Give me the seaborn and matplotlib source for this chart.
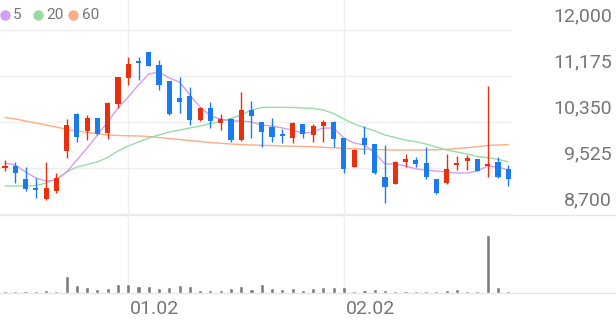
import numpy as np
import pandas as pd
import matplotlib
matplotlib.use("Agg")
import matplotlib.pyplot as plt
import seaborn as sns
from matplotlib.lines import Line2D

# ---------------- data ----------------
opens = [9531, 9567, 9328, 9172, 8970, 9113, 9830, 10494, 10189, 10428,
         10148, 10668, 11145, 11444, 11600, 11372, 11086, 10775, 10822, 10386,
         10607, 10338, 10404, 10022, 10566, 10345, 10266, 10141, 10069, 10309,
         10117, 10284, 10345, 10058, 9549, 10058, 9951, 9370, 9239, 9628,
         9669, 9621, 9323, 9249, 9579, 9654, 9687, 9561, 9639, 9502]
closes = [9567, 9430, 9149, 9137, 9172, 9341, 10297, 10085, 10428, 10128,
          10686, 11152, 11385, 11417, 11360, 11014, 10488, 10704, 10386, 10607,
          10365, 10404, 10028, 10560, 10463, 10166, 10085, 10094, 10327, 10128,
          10284, 10345, 10046, 9508, 9848, 9938, 9431, 9180, 9639, 9687,
          9597, 9359, 9072, 9502, 9612, 9697, 9477, 9592, 9359, 9328]
highs = [9669, 9628, 9549, 9352, 9639, 9431, 10404, 10506, 10476, 10430,
         10704, 11163, 11521, 11516, 11610, 11462, 11090, 11152, 10983, 10625,
         10704, 10488, 10428, 10883, 10727, 10356, 10428, 10225, 10345, 10309,
         10309, 10381, 10368, 10069, 9860, 10284, 9960, 9938, 9650, 9777,
         9716, 9893, 9330, 9777, 9741, 9759, 9690, 10996, 9716, 9579]
lows = [9471, 9251, 9113, 8993, 8952, 9072, 9710, 9997, 10028, 10117,
        10040, 10596, 11014, 11104, 11350, 10924, 10480, 10506, 10297, 10368,
        10249, 10207, 9986, 10010, 10069, 9908, 9997, 9979, 9968, 10058,
        9986, 9997, 9908, 9431, 9540, 9771, 9420, 8893, 9230, 9538,
        9549, 9323, 9060, 9239, 9490, 9490, 9470, 9370, 9341, 9201]
ma5 = [9615, 9579, 9453, 9346, 9292, 9310, 9453, 9668, 9884, 10117,
       10350, 10601, 10798, 11014, 11211, 11247, 11139, 11067, 10834, 10619,
       10458, 10404, 10368, 10368, 10350, 10296, 10278, 10242, 10206, 10153,
       10171, 10242, 10242, 10063, 9973, 9937, 9794, 9597, 9597, 9561,
       9507, 9489, 9471, 9453, 9435, 9435, 9471, 9561, 9543, 9489]
ma20 = [9202, 9202, 9202, 9211, 9256, 9328, 9453, 9543, 9588, 9633,
        9713, 9830, 9920, 9991, 10063, 10117, 10171, 10206, 10242, 10278,
        10323, 10359, 10413, 10476, 10565, 10610, 10614, 10614, 10610, 10601,
        10592, 10565, 10502, 10404, 10314, 10251, 10189, 10117, 10072, 10027,
        9997, 9955, 9902, 9848, 9812, 9776, 9731, 9710, 9681, 9633]
ma60 = [10431, 10404, 10368, 10332, 10296, 10260, 10215, 10189, 10162, 10144,
        10117, 10108, 10102, 10099, 10090, 10072, 10054, 10036, 10018, 10000,
        9982, 9968, 9955, 9946, 9937, 9932, 9927, 9920, 9916, 9911,
        9905, 9896, 9887, 9878, 9869, 9862, 9857, 9851, 9848, 9848,
        9848, 9848, 9853, 9860, 9875, 9889, 9907, 9929, 9937, 9946]
volumes = [15000, 15000, 15000, 15000, 27000, 20000, 167000, 77000, 60000, 33000,
           50000, 90000, 83000, 63000, 63000, 50000, 60000, 73000, 63000, 30000,
           30000, 23000, 50000, 63000, 33000, 83000, 43000, 33000, 43000, 30000,
           50000, 53000, 60000, 57000, 17000, 23000, 40000, 27000, 20000, 15000,
           12000, 20000, 20000, 23000, 33000, 20000, 17000, 577000, 60000, 15000]
price_ticks = [12000, 11175, 10350, 9525, 8700]
date_tick_index = [12, 33]
date_tick_labels = ["01.02", "02.02"]
legend_labels = ["5", "20", "60"]

# ---------------- style ----------------
sns.set_theme(style="white")
plt.rcParams['font.family'] = ['Roboto', 'DejaVu Sans']

RED = "#e8300e"
BLUE = "#1a7bef"
C5, C20, C60 = "#d89cf2", "#98dca4", "#fcac88"
GRID = "#efefef"
TXT = "#767676"

W, H = 616, 321
fig = plt.figure(figsize=(W / 100, H / 100), dpi=100)
fig.patch.set_facecolor("white")

def fy(py):
    return 1 - py / H

plot_right = 512
ax = fig.add_axes([0, fy(215), plot_right / W, 215 / H])
axv = fig.add_axes([0, fy(292.5), plot_right / W, (292.5 - 215) / H])

n = len(opens)
idx = np.arange(n)
df = pd.DataFrame({"i": idx, "open": opens, "close": closes, "high": highs,
                   "low": lows, "ma5": ma5, "ma20": ma20, "ma60": ma60,
                   "vol": volumes})

step = 10.27
x0 = -5 / step
x1 = (plot_right - 5) / step
per = (12000 - 8700) / 184.0  # won per pixel
ytop = 12000 + 30 * per
ybot = 8700 - 1 * per

# separators (drawn beneath the axes content)
for py in (215, 293):
    fig.add_artist(Line2D([0, 1], [fy(py), fy(py)], transform=fig.transFigure,
                          color="#e6e6e6", lw=1, zorder=-1))

# gridlines
for v in price_ticks:
    ax.axhline(v, color=GRID, lw=1, zorder=0)
for i in date_tick_index:
    ax.axvline(i, color=GRID, lw=1, zorder=0)
    axv.axvline(i, color=GRID, lw=1, zorder=0)

# MA lines
sns.lineplot(data=df, x="i", y="ma60", ax=ax, color=C60, lw=1.0, zorder=2)
sns.lineplot(data=df, x="i", y="ma20", ax=ax, color=C20, lw=1.0, zorder=2)
sns.lineplot(data=df, x="i", y="ma5", ax=ax, color=C5, lw=1.0, zorder=2)

# candles
min_body = 1.6 * per
for r in df.itertuples():
    up = r.close >= r.open
    col = RED if up else BLUE
    ax.vlines(r.i, r.low, r.high, color=col, lw=1.0, zorder=3)
    lo = min(r.open, r.close)
    h = abs(r.close - r.open)
    if h < min_body:
        lo = (r.open + r.close) / 2 - min_body / 2
        h = min_body
    ax.bar(r.i, h, bottom=lo, width=0.5, color=col, zorder=4, linewidth=0)

ax.set_xlim(x0, x1)
ax.set_ylim(ybot, ytop)
ax.set_axis_off()

# volume
sns.barplot(data=df, x="i", y="vol", ax=axv, color="#7d7d7d", width=0.4,
            native_scale=True, saturation=1, zorder=3)
axv.set_xlim(x0, x1)
axv.set_ylim(0, 775000)
axv.set_axis_off()

# price labels
for v in price_ticks:
    ax.annotate(f"{v:,}", xy=(1, v), xycoords=ax.get_yaxis_transform(),
                xytext=(612 - plot_right, 14), textcoords="offset pixels",
                ha="right", va="center", fontsize=14, color=TXT)

# date labels
for i, lab in zip(date_tick_index, date_tick_labels):
    axv.annotate(lab, xy=(i, 0), xycoords=axv.get_xaxis_transform(),
                 xytext=(2, -17), textcoords="offset pixels",
                 ha="left", va="center", fontsize=14, color=TXT)

# legend
leg_cols = [C5, C20, C60]
dot_x = [5, 37.5, 73]
txt_x = [13, 46, 82]
for c, dx, tx, lab in zip(leg_cols, dot_x, txt_x, legend_labels):
    fig.add_artist(Line2D([dx / W], [fy(15)], transform=fig.transFigure,
                          marker="o", markersize=6.5, color=c, lw=0))
    fig.text(tx / W, fy(15), lab, ha="left", va="center", fontsize=11,
             color=TXT)

fig.savefig("out.png", dpi=100)
